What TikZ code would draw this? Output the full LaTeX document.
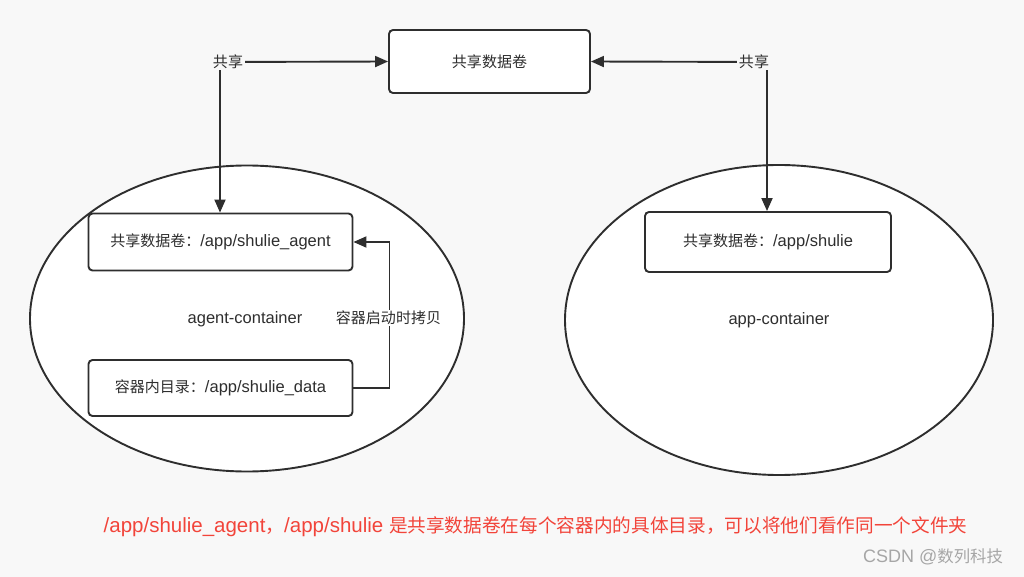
\documentclass[tikz,border=0pt]{standalone}
\usepackage{fontspec}
\setmainfont{Liberation Sans}
\newfontfamily\cjk{Noto Sans CJK SC}[Scale=0.91]
\usetikzlibrary{arrows.meta,shapes.geometric}
\definecolor{bgc}{HTML}{F8F8F8}
\definecolor{ln}{HTML}{2E2E2E}
\definecolor{redt}{RGB}{242,68,58}
\tikzset{
  box/.style={draw=ln, line width=1.9pt, rounded corners=4pt, fill=white, inner sep=0pt, text=ln, font=\fontsize{16.5}{20}\selectfont},
  cont/.style={ellipse, draw=ln, line width=1.9pt, fill=white, inner sep=0pt},
  conn/.style={draw=ln, line width=1.9pt, -{Triangle[length=13pt,width=11pt]}},
  lbl/.style={font=\fontsize{16.5}{20}\selectfont, text=ln, inner sep=1.5pt},
}
\begin{document}
\begin{tikzpicture}[x=1pt,y=-1pt]
\fill[bgc] (0,0) rectangle (1024,577);
\useasboundingbox (0,0) rectangle (1024,577);
% containers
\node[cont, minimum width=434pt, minimum height=306pt] (lc) at (247,318.5) {};
\node[cont, minimum width=428pt, minimum height=310pt] (rc) at (779,320) {};
% boxes
\node[box, minimum width=201pt, minimum height=63pt] (vol) at (489.5,61.5) {\cjk 共享数据卷};
\node[box, minimum width=264pt, minimum height=57pt] (b1) at (220.5,242) {{\cjk 共享数据卷：}/app/shulie\_agent};
\node[box, minimum width=264pt, minimum height=56pt] (b2) at (220.5,388) {{\cjk 容器内目录：}/app/shulie\_data};
\node[box, minimum width=246pt, minimum height=60pt] (rb) at (768,242) {{\cjk 共享数据卷：}/app/shulie};
% container labels
\node[lbl] (ac) at (245,319) {agent-container};
\node[lbl] (pc) at (779,320) {app-container};
% shared connectors
\coordinate (cl) at (220,62);
\coordinate (cr) at (767,62);
\draw[conn] (cl) -- (vol.west);
\draw[conn] (cl) -- (cl |- b1.north);
\draw[conn] (cr) -- (vol.east);
\draw[conn] (cr) -- (cr |- rb.north);
\node[lbl, fill=bgc] (sl) at (228,62) {\cjk 共享};
\node[lbl, fill=bgc] (sr) at (754,62) {\cjk 共享};
% copy connector
\draw[conn] (b2.east) -- ++(36,0) |- (b1.east);
\node[lbl, fill=white] (cp) at (388.5,318) {\cjk 容器启动时拷贝};
% note
\node[font=\fontsize{20.5}{24}\selectfont, text=redt, inner sep=0pt] (note) at (535.5,527) {/app/shulie\_agent{\cjk ，}/app/shulie {\cjk 是共享数据卷在每个容器内的具体目录，可以将他们看作同一个文件夹}};
% watermark
\node[font=\fontsize{18}{22}\selectfont, text=gray!70, inner sep=0pt] (wm) at (933,557) {CSDN @{\cjk 数列科技}};
\end{tikzpicture}
\end{document}
